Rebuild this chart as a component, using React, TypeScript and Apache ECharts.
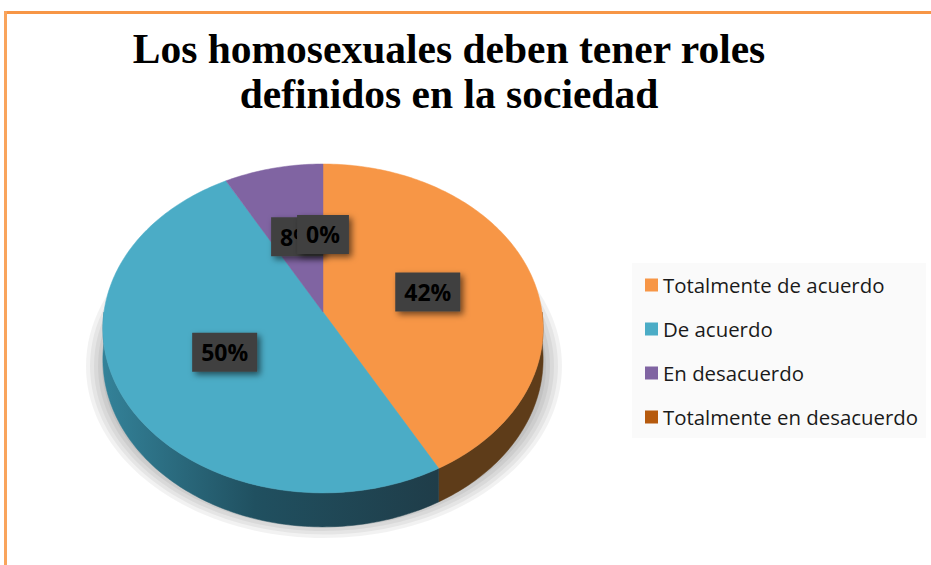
import React, { useEffect, useRef } from "react";
import * as echarts from "echarts";

// ---- data ----
const categories = [
  "Totalmente de acuerdo",
  "De acuerdo",
  "En desacuerdo",
  "Totalmente en desacuerdo",
];
const percentages = [42, 50, 8, 0];
const titleLines = ["Los homosexuales deben tener roles", "definidos en la sociedad"];

// ---- styles ----
const topColors = ["#F79646", "#4BACC6", "#8064A2", "#B65A0E"];
const sideColors: any[] = [
  "#5E3C19",
  new echarts.graphic.LinearGradient(100, 0, 445, 0, [
    { offset: 0, color: "#34839A" },
    { offset: 0.45, color: "#205060" },
    { offset: 1, color: "#1F3C48" },
  ], true),
  "#3F3151",
  "#5A2D07",
];

// projection of the tilted disc (perspective)
const CX = 323;
const CY = 312;
const RX = 219;
const RY = 162.8;
const K = -0.1;
const DEPTH = 30.6;

function proj(theta: number, r: number, drop: number): number[] {
  const u = r * Math.sin(theta);
  const v = -r * Math.cos(theta);
  const d = 1 + K * v;
  return [CX + (RX * u) / d, CY + (RY * v + drop) / d];
}

function arcPoints(a0: number, a1: number, drop: number): number[][] {
  const pts: number[][] = [];
  const steps = Math.max(2, Math.ceil(((a1 - a0) * 180) / Math.PI));
  for (let i = 0; i <= steps; i++) {
    pts.push(proj(a0 + ((a1 - a0) * i) / steps, 1, drop));
  }
  return pts;
}

export default function App() {
  const ref = useRef<HTMLDivElement>(null);

  useEffect(() => {
    if (!ref.current) return;
    const chart = echarts.init(ref.current, undefined, { renderer: "svg" });
    const total = percentages.reduce((a, b) => a + b, 0);

    const series = categories.map((name, idx) => ({
      type: "custom",
      name,
      coordinateSystem: "none",
      itemStyle: { color: topColors[idx] },
      data: [[percentages[idx]]],
      renderItem: (params: any, api: any) => {
        const value = api.value(0) as number;
        const before = percentages.slice(0, idx).reduce((a, b) => a + b, 0);
        const start = (before / total) * Math.PI * 2;
        const end = start + (value / total) * Math.PI * 2;
        const children: any[] = [];
        if (value > 0) {
          // side wall (front half only)
          const s0 = Math.max(start, Math.PI / 2);
          const s1 = Math.min(end, (Math.PI * 3) / 2);
          if (s1 > s0) {
            const top = arcPoints(s0, s1, 0);
            const bottom = arcPoints(s0, s1, DEPTH).reverse();
            children.push({
              type: "polygon",
              z2: 10,
              shape: { points: top.concat(bottom) },
              style: { fill: sideColors[idx], stroke: sideColors[idx], lineWidth: 0.5 },
            });
          }
          // top face
          const pts = [proj(0, 0, 0)].concat(arcPoints(start, end, 0));
          children.push({
            type: "polygon",
            z2: 50,
            shape: { points: pts },
            style: { fill: topColors[idx], stroke: topColors[idx], lineWidth: 0.5 },
          });
        }
        // data label
        const mid = (start + end) / 2;
        const lp = proj(mid, 0.5, 0);
        children.push({
          type: "text",
          z2: 100 + idx,
          x: lp[0],
          y: lp[1],
          style: {
            text: Math.round((value / total) * 100) + "%",
            fill: "#000000",
            font: 'bold 23px "Open Sans", sans-serif',
            align: "center",
            verticalAlign: "middle",
            backgroundColor: "#404040",
            padding: [9, 9, 7, 9],
            shadowBlur: 6,
            shadowColor: "rgba(0,0,0,0.55)",
            shadowOffsetX: 3,
            shadowOffsetY: 3,
          },
        });
        return { type: "group", children };
      },
    }));

    const shadowEllipses = [0, 1, 2, 3, 4, 5].map((i) => ({
      type: "ellipse",
      z: 0,
      silent: true,
      shape: { cx: 324, cy: 366, rx: 238 - i * 4, ry: 172 - i * 3.5 },
      style: { fill: "rgba(0,0,0,0.05)" },
    }));

    chart.setOption({
      animation: false,
      backgroundColor: "#ffffff",
      legend: {
        orient: "vertical",
        left: 632,
        top: 263,
        padding: [12, 8, 11, 13],
        itemGap: 24,
        itemWidth: 13,
        itemHeight: 13,
        icon: "rect",
        selectedMode: false,
        backgroundColor: "#FAFAFA",
        data: categories,
        textStyle: {
          fontFamily: '"Open Sans", sans-serif',
          fontSize: 20.4,
          lineHeight: 20,
          color: "#1A1A1A",
        },
      },
      graphic: [
        ...shadowEllipses,
        {
          type: "rect",
          z: 10,
          silent: true,
          shape: { x: 4, y: 11, width: 940, height: 3 },
          style: { fill: "#F79646" },
        },
        {
          type: "rect",
          z: 10,
          silent: true,
          shape: { x: 4, y: 11, width: 3, height: 570 },
          style: { fill: "#F9A45C" },
        },
        {
          type: "text",
          z: 10,
          x: 449,
          y: 26,
          style: {
            text: titleLines.join("\n"),
            font: 'bold 41.5px "Liberation Serif", "Times New Roman", serif',
            fill: "#000000",
            align: "center",
            verticalAlign: "top",
            lineHeight: 45,
          },
        },
      ],
      series,
    });

    return () => chart.dispose();
  }, []);

  return (
    <div
      ref={ref}
      style={{ position: "absolute", left: 0, top: 0, width: 931, height: 565 }}
    />
  );
}
